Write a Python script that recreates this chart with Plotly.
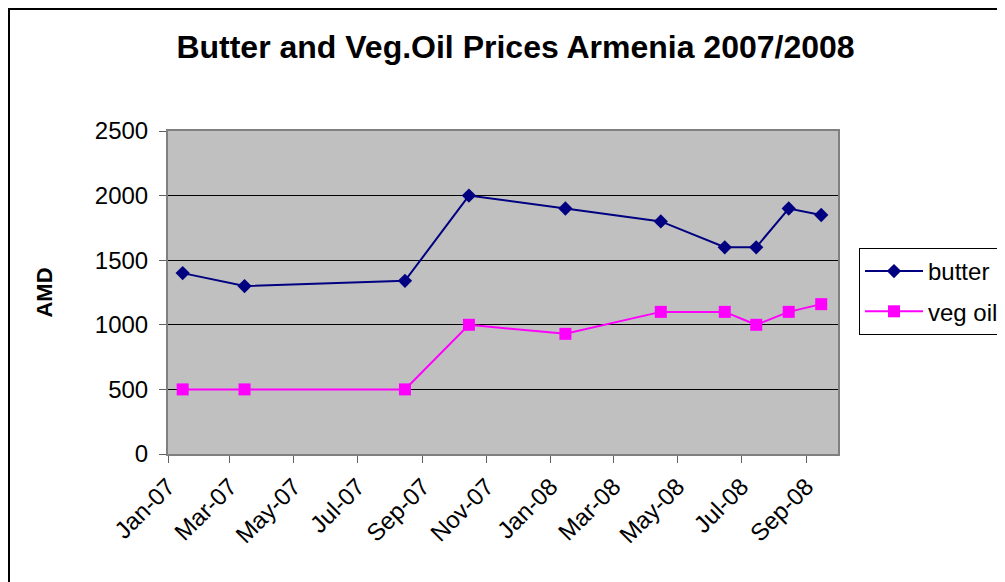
import plotly.graph_objects as go

dates = ["2007-01-15", "2007-03-15", "2007-08-15", "2007-10-15", "2008-01-15",
         "2008-04-15", "2008-06-15", "2008-07-15", "2008-08-15", "2008-09-15"]
butter = [1400, 1300, 1340, 2000, 1900, 1800, 1600, 1600, 1900, 1850]
veg_oil = [500, 500, 500, 1000, 930, 1100, 1100, 1000, 1100, 1160]

# page body has an 8px margin, so the figure is sized to fit the window
OFF = 8
W, H = 1005 - OFF, 582 - OFF
L, R, T, B = 160, 167, 123, 128
PW, PH = W - L - R, H - T - B

def px(x):  # page pixel -> paper fraction
    return (x - OFF - L) / PW

def py(y):
    return (H - B - (y - OFF)) / PH

FONT = "Arial, Liberation Sans, sans-serif"

fig = go.Figure()
fig.add_trace(go.Scatter(
    x=dates, y=butter, name="butter", mode="lines+markers",
    legendgroup="a",
    line=dict(color="#000080", width=2),
    marker=dict(symbol="diamond", size=11, color="#000080"),
))
fig.add_trace(go.Scatter(
    x=dates, y=veg_oil, name="veg oil", mode="lines+markers",
    legendgroup="b",
    line=dict(color="#FF00FF", width=2),
    marker=dict(symbol="square", size=12, color="#FF00FF"),
))

fig.update_layout(
    width=W, height=H,
    margin=dict(l=L, r=R, t=T, b=B, autoexpand=False),
    paper_bgcolor="white",
    plot_bgcolor="#C0C0C0",
    font=dict(family=FONT, size=24, color="black"),
    title=dict(text="<b>Butter and Veg.Oil Prices Armenia 2007/2008</b>",
               x=507.5 / W, xanchor="center", xref="container",
               y=1 - 39 / H, yanchor="middle", yref="container",
               font=dict(size=32, family=FONT, color="black")),
    legend=dict(x=px(859), y=py(248), xanchor="left", yanchor="top",
                bordercolor="black", borderwidth=1, bgcolor="white",
                font=dict(size=24, family=FONT), itemwidth=58,
                traceorder="grouped", tracegroupgap=6),
    showlegend=True,
    shapes=[
        dict(type="line", xref="paper", yref="paper",
             x0=px(9), x1=px(9), y0=py(8), y1=py(600),
             line=dict(color="black", width=2)),
        dict(type="line", xref="paper", yref="paper",
             x0=px(8), x1=px(1020), y0=py(9), y1=py(9),
             line=dict(color="black", width=2)),
    ],
)

fig.update_xaxes(
    type="date", range=["2007-01-01", "2008-10-01"],
    tick0="2007-01-01", dtick="M2", tickformat="%b-%y",
    tickangle=-45, showgrid=False, automargin=False,
    showline=True, linecolor="#808080", linewidth=2, mirror=True,
    ticks="outside", ticklen=7, tickcolor="#606060", tickwidth=1,
    tickfont=dict(size=24, family=FONT),
)
fig.update_yaxes(
    range=[0, 2500], dtick=500, tick0=0, automargin=False,
    showgrid=True, gridcolor="black", gridwidth=1,
    showline=True, linecolor="#808080", linewidth=2, mirror=True,
    ticks="outside", ticklen=7, tickcolor="#606060", tickwidth=1,
    tickfont=dict(size=24, family=FONT),
    ticklabelstandoff=6,
    title=dict(text="<b>AMD</b>", font=dict(size=22, family=FONT), standoff=36),
    zeroline=False,
)

fig.write_html("out.html")
